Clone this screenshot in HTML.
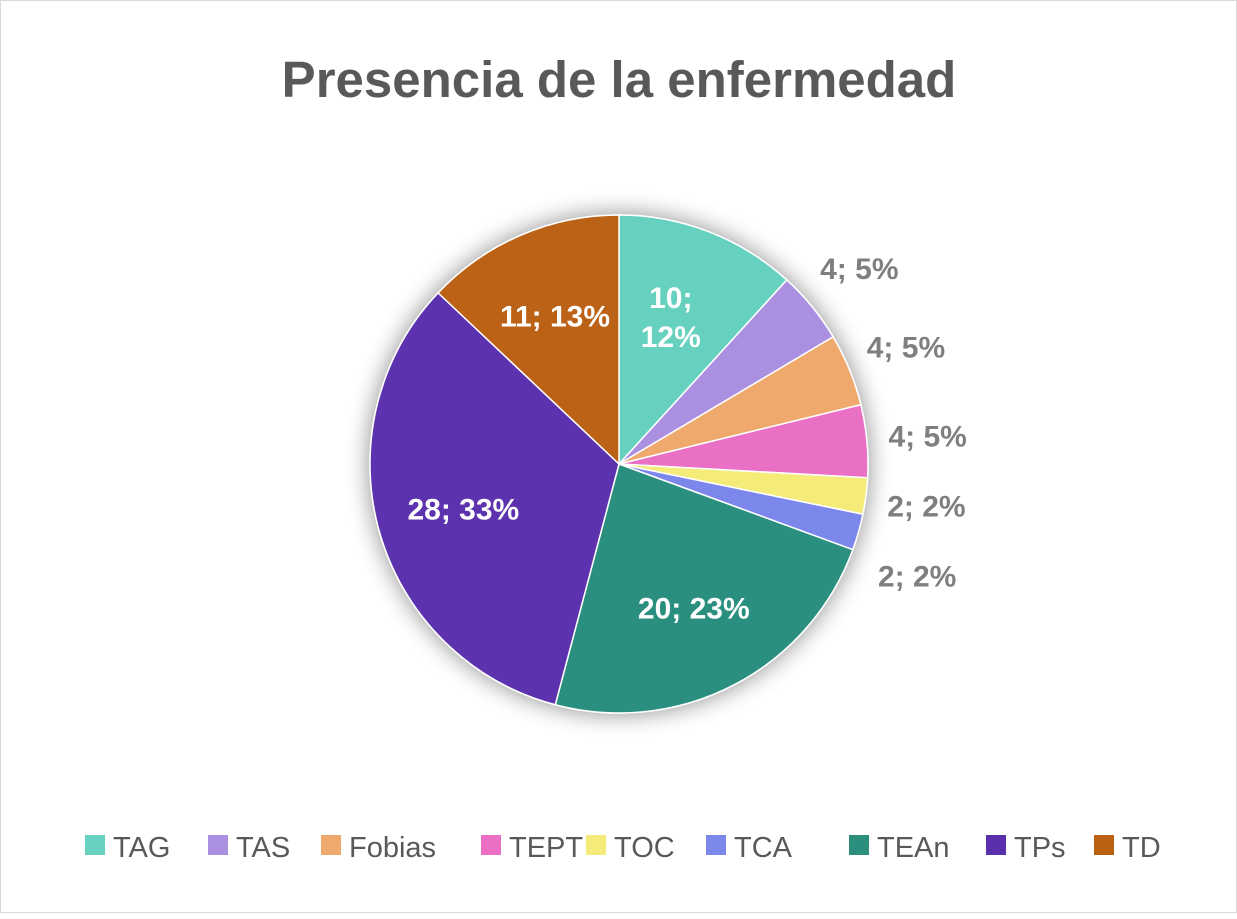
<!DOCTYPE html>
<html><head><meta charset="utf-8"><style>
body{margin:0;background:#fff;}
#chart{position:absolute;left:0;top:0;width:1235px;height:911px;border:1px solid #d9d9d9;background:#fff;font-family:"Liberation Sans",sans-serif;}
</style></head><body>
<div id="chart">
<svg width="1237" height="913">
<defs><filter id="sh" x="-20%" y="-20%" width="140%" height="140%"><feGaussianBlur in="SourceAlpha" stdDeviation="12"/><feOffset dx="0" dy="0"/><feComponentTransfer><feFuncA type="linear" slope="0.45"/></feComponentTransfer><feMerge><feMergeNode/><feMergeNode in="SourceGraphic"/></feMerge></filter></defs>
<text x="618" y="96" text-anchor="middle" font-size="51" font-weight="bold" fill="#595959">Presencia de la enfermedad</text>
<g id="pie" filter="url(#sh)"></g>
<g id="labels"></g>
<g id="legend"></g>
</svg>
</div>
<script>
const categories=["TAG","TAS","Fobias","TEPT","TOC","TCA","TEAn","TPs","TD"];
const values=[10,4,4,4,2,2,20,28,11];
const colors=["#66d1be","#ab8fe0","#f0a96c","#ea6fc5","#f5eb78","#7c87ec","#2c8f7e","#5b30ae","#bb6212"];
const inside=[true,false,false,false,false,false,true,true,true];
const ns="http://www.w3.org/2000/svg";
const cx=618,cy=463,r=249;
const total=values.reduce((a,b)=>a+b,0);
// largest remainder percentages (sum to 100)
const raw=values.map(v=>v/total*100);
const pcts=raw.map(Math.floor);
let rest=100-pcts.reduce((a,b)=>a+b,0);
raw.map((x,i)=>[x-Math.floor(x),i]).sort((a,b)=>b[0]-a[0]).slice(0,rest).forEach(e=>pcts[e[1]]++);
function pt(a,R){return [cx+R*Math.sin(a),cy-R*Math.cos(a)];}
const pie=document.getElementById('pie'),lab=document.getElementById('labels'),leg=document.getElementById('legend');
let cum=0,lastY=-1e9;
values.forEach((v,i)=>{
  const a0=cum/total*2*Math.PI;cum+=v;const a1=cum/total*2*Math.PI;
  const p0=pt(a0,r),p1=pt(a1,r);const large=(a1-a0)>Math.PI?1:0;
  const p=document.createElementNS(ns,'path');
  p.setAttribute('d',`M${cx},${cy}L${p0[0]},${p0[1]}A${r},${r} 0 ${large} 1 ${p1[0]},${p1[1]}Z`);
  p.setAttribute('fill',colors[i]);p.setAttribute('stroke','#fff');p.setAttribute('stroke-width','1.5');
  
  
  pie.appendChild(p);
  const am=(a0+a1)/2;const pct=pcts[i]+'%';
  const t=document.createElementNS(ns,'text');
  t.setAttribute('text-anchor','middle');t.setAttribute('font-size','30');t.setAttribute('font-weight','bold');
  if(inside[i]){
    t.setAttribute('fill','#fff');
    if(v/total<0.125){
      const q=pt(am,r*0.62);
      t.innerHTML=`<tspan x="${q[0]-4}" y="${q[1]-12}">${v};</tspan><tspan x="${q[0]-4}" y="${q[1]+27}">${pct}</tspan>`;
    } else {const q=pt(am,r*0.65);t.setAttribute('x',q[0]);t.setAttribute('y',q[1]+11);t.textContent=v+'; '+pct;}
  } else {
    const q=pt(am,310);let y=q[1]+11;if(y<lastY+70)y=lastY+70;lastY=y;
    t.setAttribute('fill','#7f7f7f');t.setAttribute('x',q[0]);t.setAttribute('y',y);t.textContent=v+'; '+pct;
  }
  
  
  lab.appendChild(t);
});
const lx=[84,207,320,480,585,705,848,985,1093];
categories.forEach((c,i)=>{
  const g=document.createElementNS(ns,'g');
  
  
  const s=document.createElementNS(ns,'rect');
  s.setAttribute('x',lx[i]);s.setAttribute('y',834);s.setAttribute('width',20);s.setAttribute('height',20);s.setAttribute('fill',colors[i]);
  const t=document.createElementNS(ns,'text');
  t.setAttribute('x',lx[i]+28);t.setAttribute('y',856);t.setAttribute('font-size','29');t.setAttribute('fill','#595959');t.textContent=c;
  g.appendChild(s);g.appendChild(t);leg.appendChild(g);
});
</script>
</body></html>
